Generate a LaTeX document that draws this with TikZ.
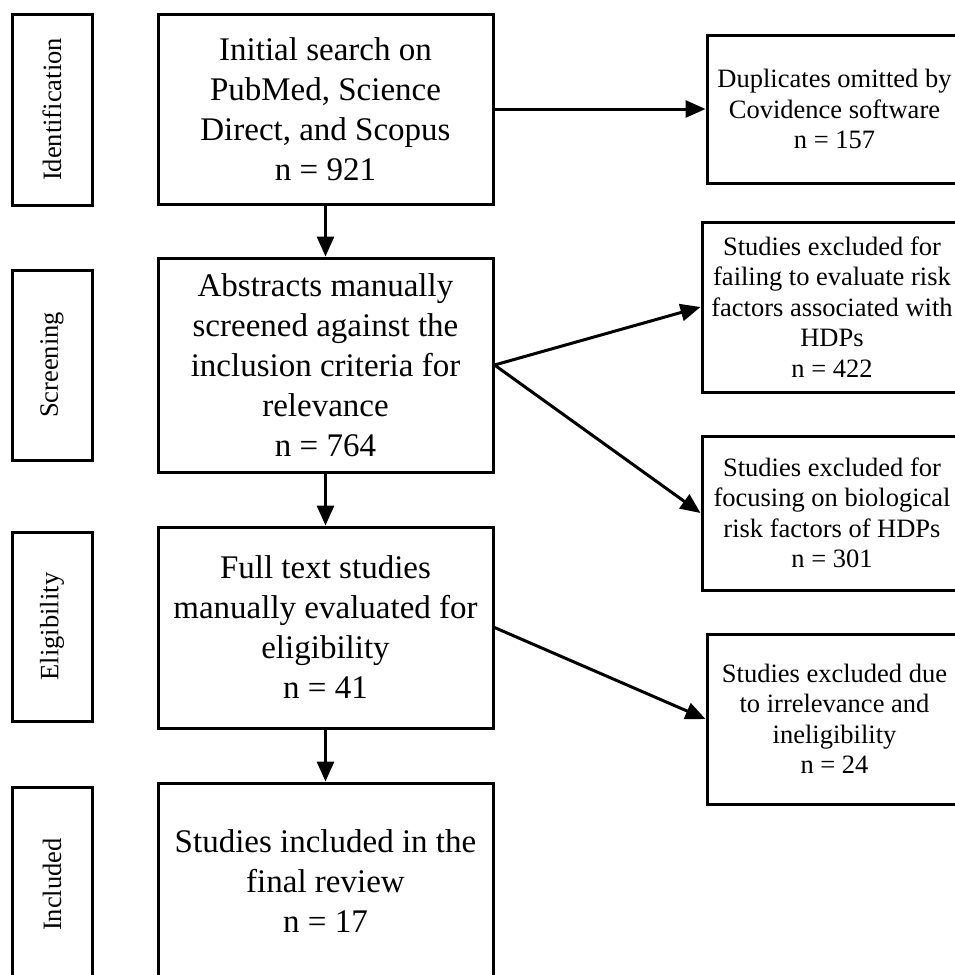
\documentclass[tikz,border=0pt]{standalone}
\usepackage{fontspec}
\setmainfont{Liberation Serif}
\usetikzlibrary{arrows.meta}
\begin{document}
\begin{tikzpicture}[x=1pt,y=-1pt,
  boxline/.style={draw=black,line width=3pt,inner sep=0pt,align=center},
  mainbox/.style={boxline,minimum width=335pt,font=\fontsize{33}{40}\selectfont},
  sidebox/.style={boxline,font=\fontsize{26.5}{30.5}\selectfont},
  stagebox/.style={boxline,minimum width=80pt,font=\fontsize{26.5}{30}\selectfont},
  flow/.style={line width=3pt,-{Triangle[length=20pt,width=17pt]}}]
\path[use as bounding box] (0,0) rectangle (955,975);
\clip (0,0) rectangle (955,975);
\fill[white] (0,0) rectangle (955,975);
% stage labels
\node[stagebox,minimum height=191pt] (sI) at (52,109.5) {\rotatebox{90}{Identification}};
\node[stagebox,minimum height=190pt] (sS) at (52,365) {\rotatebox{90}{Screening}};
\node[stagebox,minimum height=189pt] (sE) at (52,626.5) {\rotatebox{90}{Eligibility}};
\node[stagebox,minimum height=195pt] (sN) at (52,884.5) {\rotatebox{90}{Included}};
% main boxes
\node[mainbox,minimum height=190pt] (b1) at (325.5,109) {Initial search on\\PubMed, Science\\Direct, and Scopus\\n = 921};
\node[mainbox,minimum height=214pt] (b2) at (325.5,365) {Abstracts manually\\screened against the\\inclusion criteria for\\relevance\\n = 764};
\node[mainbox,minimum height=201pt] (b3) at (325.5,627.5) {Full text studies\\manually evaluated for\\eligibility\\n = 41};
\node[mainbox,minimum height=197pt] (b4) at (325.5,881.5) {Studies included in the\\final review\\n = 17};
% side boxes
\node[sidebox,minimum width=255pt,minimum height=148pt] (r1) at (834.5,109) {Duplicates omitted by\\Covidence software\\n = 157};
\node[sidebox,minimum width=260pt,minimum height=170pt] (r2) at (832,307) {Studies excluded for\\failing to evaluate risk\\factors associated with\\HDPs\\n = 422};
\node[sidebox,minimum width=260pt,minimum height=154pt] (r3) at (832,513) {Studies excluded for\\focusing on biological\\risk factors of HDPs\\n = 301};
\node[sidebox,minimum width=255pt,minimum height=170pt] (r4) at (834.5,719) {Studies excluded due\\to irrelevance and\\ineligibility\\n = 24};
% connectors
\draw[flow] (b1) -- (b2);
\draw[flow] (b2) -- (b3);
\draw[flow] (b3) -- (b4);
\draw[flow] (b1.east) -- (r1.west);
\draw[flow] (b2.east) -- (r2.west);
\draw[flow] (b2.east) -- (r3.west);
\draw[flow] (b3.east) -- (r4.west);
\end{tikzpicture}
\end{document}
